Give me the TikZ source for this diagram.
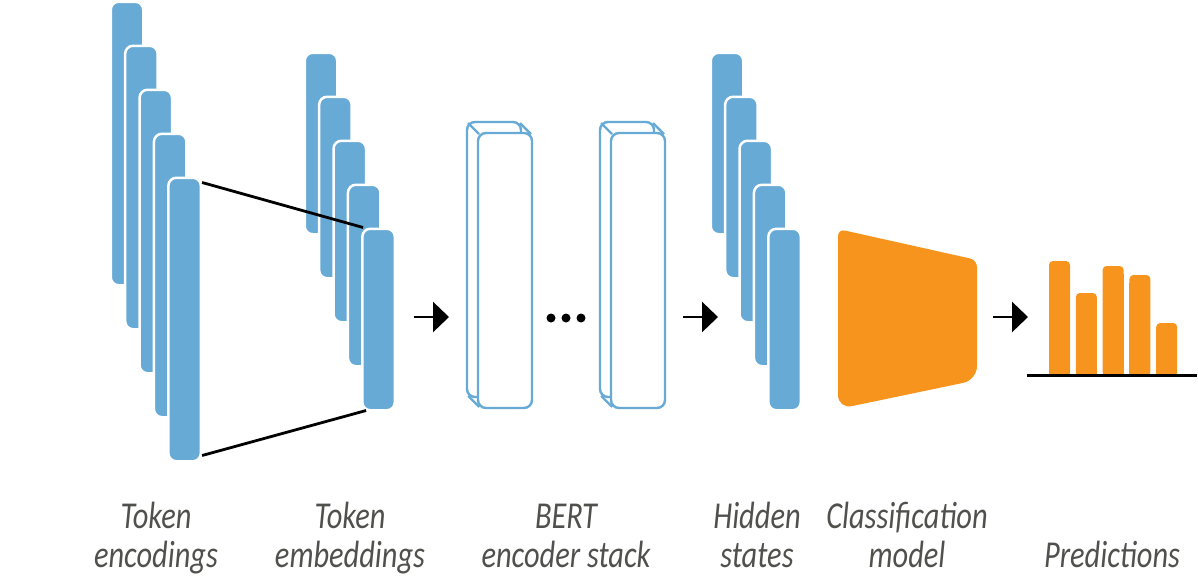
\documentclass[tikz,border=0pt]{standalone}
\usepackage{fontspec}
\newfontfamily\lblfont{Carlito}[FakeStretch=0.80]
\usetikzlibrary{arrows.meta}
\definecolor{bblue}{RGB}{103,170,214}
\definecolor{borange}{RGB}{247,148,30}
\definecolor{lblgrey}{RGB}{80,80,76}
\begin{document}
\begin{tikzpicture}[x=1pt,y=-1pt,
  encbar/.style={draw=white, fill=bblue, line width=2.5pt, rounded corners=8pt,
    minimum width=32.5pt, minimum height=283.5pt, inner sep=0pt},
  embbar/.style={encbar, minimum height=181.5pt},
  slab/.style={draw=bblue, fill=white, line width=2.4pt, rounded corners=8pt,
    minimum width=54pt, minimum height=275pt, inner sep=0pt},
  slabedge/.style={draw=bblue, line width=2.4pt},
  conn/.style={draw=black, line width=2.8pt},
  arr/.style={draw=black, line width=2.7pt, -{Triangle[length=16pt,width=30pt]}},
  dot/.style={circle, fill=black, inner sep=0pt, minimum size=9pt},
  lbl/.style={font=\lblfont\itshape\fontsize{38}{39}\selectfont, text=lblgrey, anchor=base, inner sep=0pt}
]
\useasboundingbox (0,0) rectangle (1198,579);

% Token encodings
\foreach \i in {0,...,4}
  \node[encbar] (enc\i) at ({127+14.4*\i},{143.5+44*\i}) {};
% Token embeddings
\foreach \i in {0,...,4}
  \node[embbar] (emb\i) at ({321+14.4*\i},{143.5+44*\i}) {};
% connectors
\draw[conn] ([yshift=-6pt]enc4.north east) -- ([xshift=2pt]emb4.north west);
\draw[conn] ([yshift=7pt]enc4.south east) -- ([xshift=5pt,yshift=1pt]emb4.south west);

% BERT encoder slabs
\foreach \n/\x in {A/494,B/627}{
  \node[slab] (bert\n back) at (\x,259.5) {};
  \node[slab] (bert\n) at ({\x+11},270.5) {};
  \draw[slabedge] ([shift={(2.3,2.3)}]bert\n back.north west) -- ([shift={(2.3,2.3)}]bert\n.north west);
  \draw[slabedge] ([shift={(-2.3,2.3)}]bert\n back.north east) -- ([shift={(-2.3,2.3)}]bert\n.north east);
  \draw[slabedge] ([shift={(2.3,-2.3)}]bert\n back.south west) -- ([shift={(2.3,-2.3)}]bert\n.south west);
}
\node[dot] (d1) at (551,318) {};
\node[dot] (d2) at (566,318) {};
\node[dot] (d3) at (581,318) {};

% Hidden states
\foreach \i in {0,...,4}
  \node[embbar] (hid\i) at ({727+14.4*\i},{143.5+44*\i}) {};

% arrows
\coordinate (a1s) at (414,317); \coordinate (a1e) at (449,317);
\coordinate (a2s) at (683,317); \coordinate (a2e) at (718,317);
\coordinate (a3s) at (993,317); \coordinate (a3e) at (1028,317);
\draw[arr] (a1s) -- (a1e);
\draw[arr] (a2s) -- (a2e);
\draw[arr] (a3s) -- (a3e);

% Classification model
\fill[borange] (838,320) [rounded corners=7pt] -- (838,229) -- (977,260) [rounded corners=14pt] -- (977,380) -- (838,409) [sharp corners] -- cycle;
\fill[borange] (838,300) -- (838,340) -- (850,340) -- (850,300) -- cycle;

% Predictions
\foreach \x/\t in {1049/261, 1075.8/293, 1102.6/266, 1129.4/275, 1156.2/323}{
  \fill[borange, rounded corners=4pt] (\x,\t) rectangle ({\x+21},376);
  \fill[borange] (\x,{\t+8}) rectangle ({\x+21},376);
}
\coordinate (bl) at (1027,375.5); \coordinate (br) at (1197,375.5);
\draw[line width=2.7pt] (bl) -- (br);

% labels
\node[lbl] (l1a) at (156,528) {Token};
\node[lbl] (l1b) at (156,567) {encodings};
\node[lbl] (l2a) at (350,528) {Token};
\node[lbl] (l2b) at (350,567) {embeddings};
\node[lbl] (l3a) at (566,528) {BERT};
\node[lbl] (l3b) at (566,567) {encoder stack};
\node[lbl] (l4a) at (757,528) {Hidden};
\node[lbl] (l4b) at (757,567) {states};
\node[lbl] (l5a) at (907,528) {Classification};
\node[lbl] (l5b) at (907,567) {model};
\node[lbl] (l6b) at (1112,567) {Predictions};
\end{tikzpicture}
\end{document}
